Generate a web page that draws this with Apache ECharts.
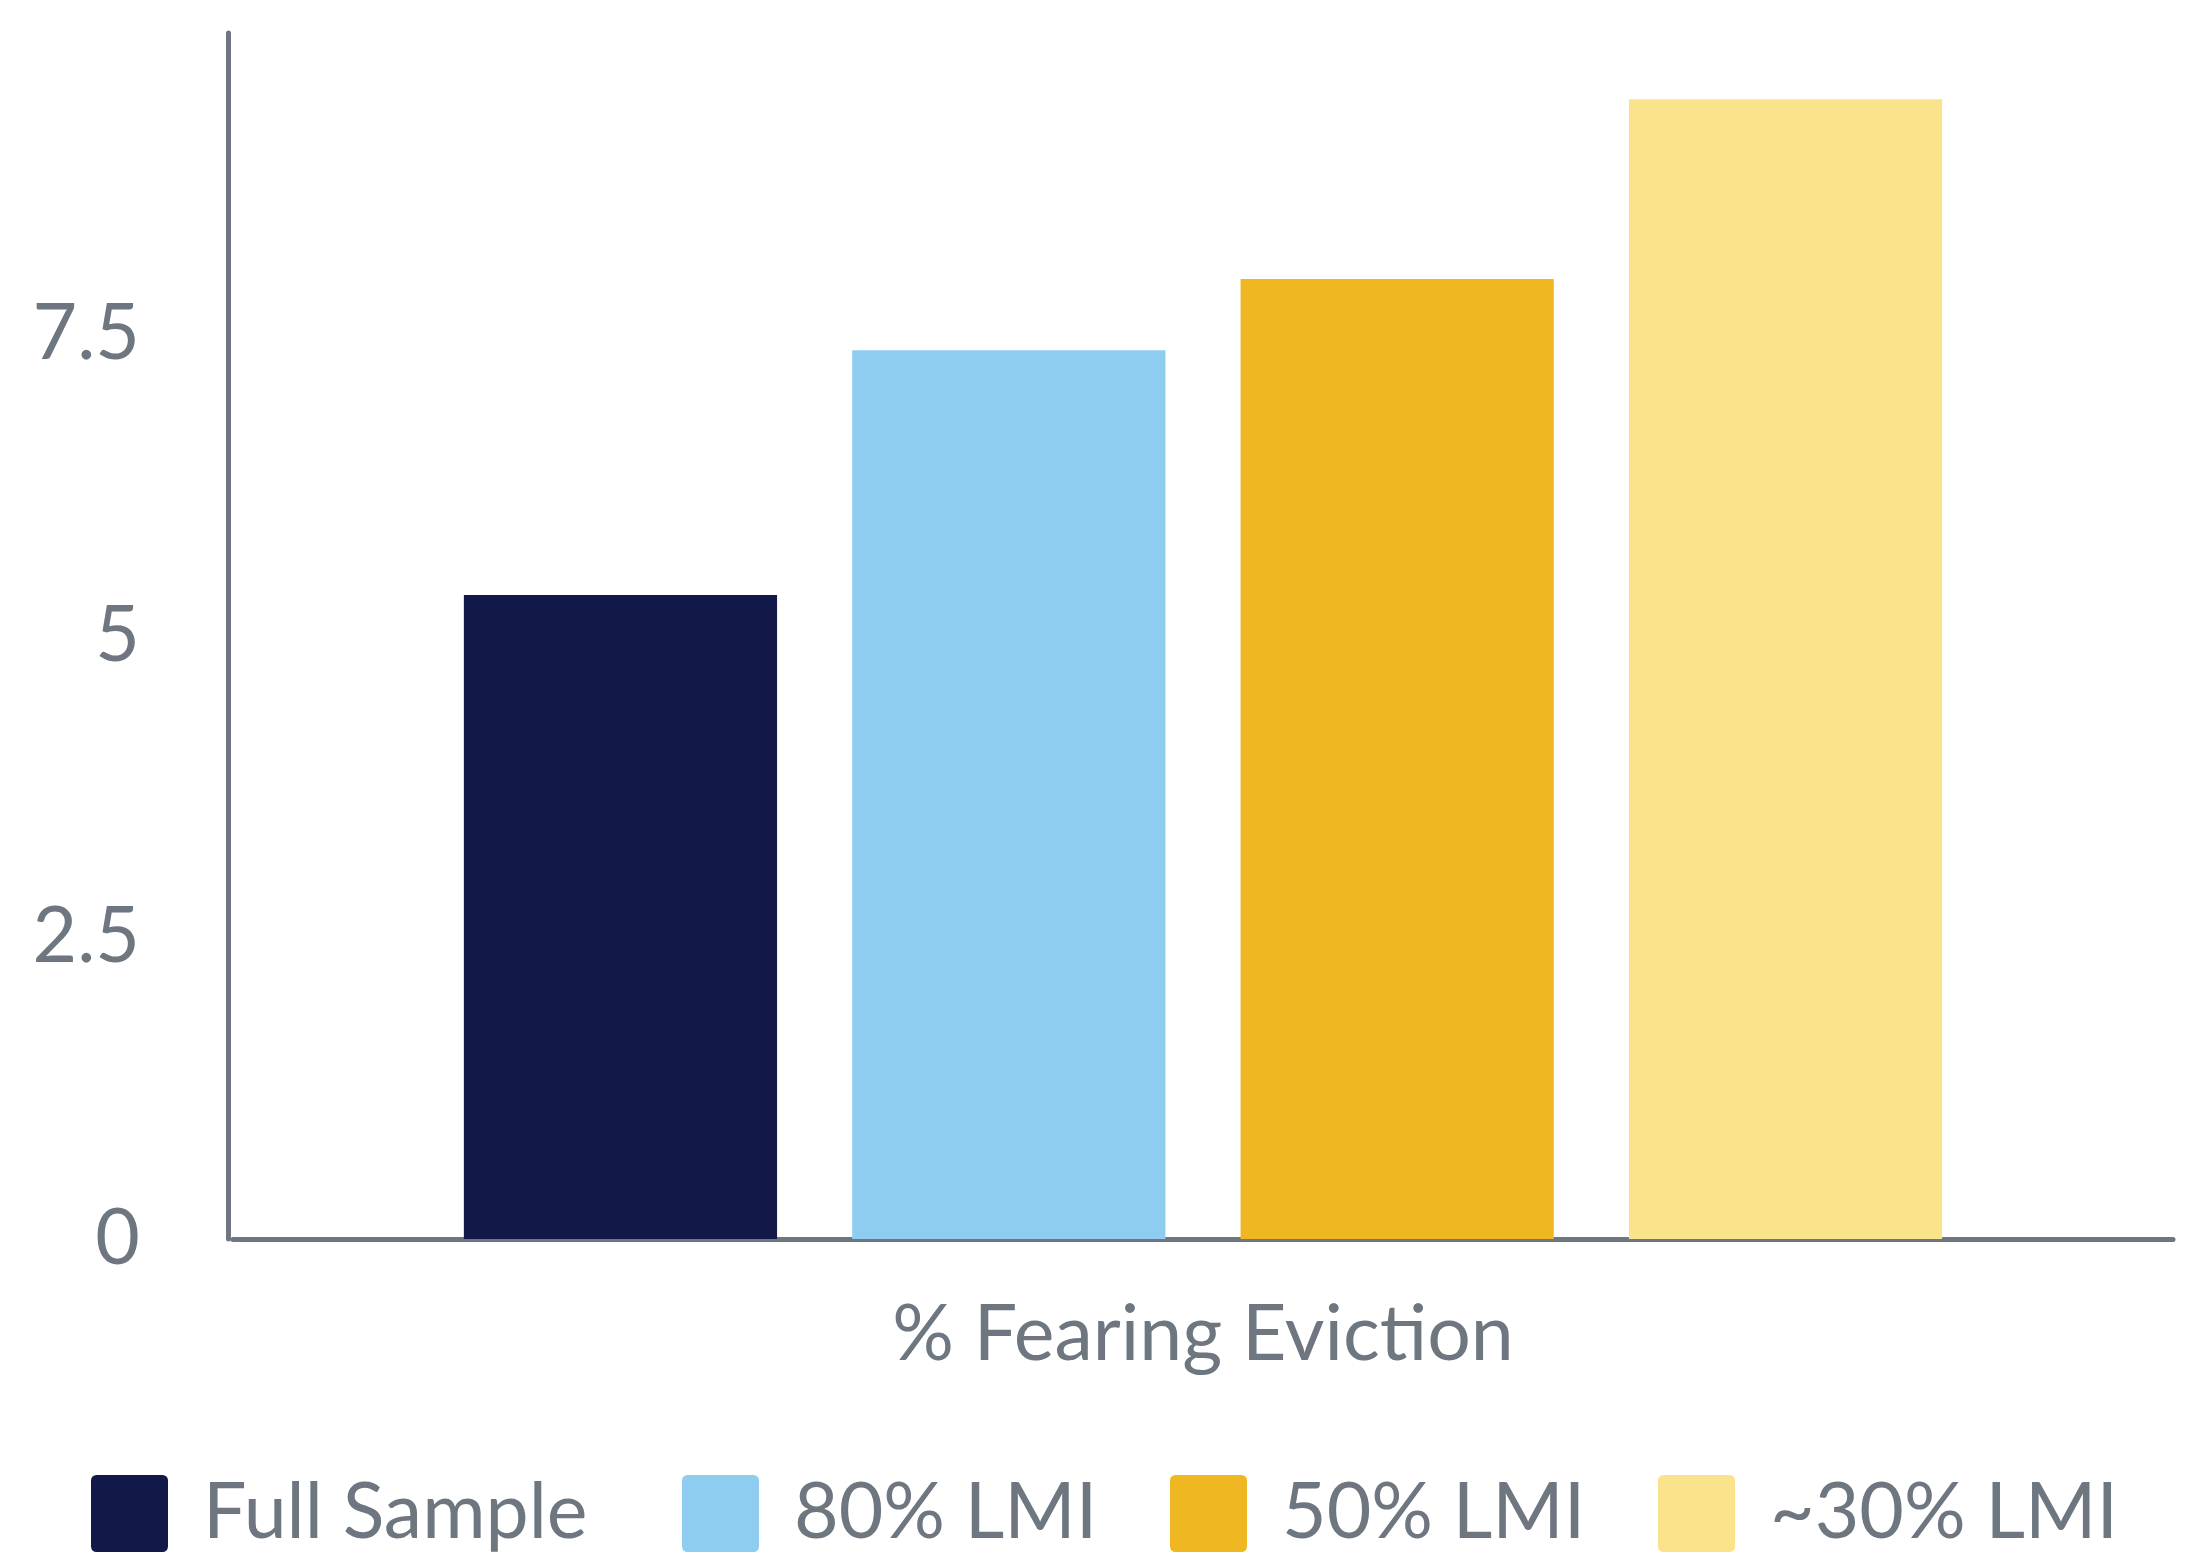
<!DOCTYPE html>
<html>
<head>
<meta charset="utf-8">
<script src="https://cdn.jsdelivr.net/npm/echarts@6/dist/echarts.min.js"></script>
<style>
html,body{margin:0;padding:0;background:#fff;}
#chart{width:2198px;height:1559px;}
</style>
</head>
<body>
<div id="chart"></div>
<script>
var categories = ['% Fearing Eviction'];
var seriesNames = ['Full Sample', '80% LMI', '50% LMI', '~30% LMI'];
var fullSample = [5.34];
var lmi80 = [7.37];
var lmi50 = [7.96];
var lmi30 = [9.45];
var yTicks = [0, 2.5, 5, 7.5, 10];

var colors = ['#121848', '#8fcdf0', '#efb823', '#fbe38b'];
var gray = '#6e7680';
var font = 'Lato';
var legendIcon = 'path://M0.7,0H9.3A0.7,0.7 0 0 1 10,0.7V9.3A0.7,0.7 0 0 1 9.3,10H0.7A0.7,0.7 0 0 1 0,9.3V0.7A0.7,0.7 0 0 1 0.7,0Z';
var legendLefts = [91, 682, 1170, 1658];

var seriesData = [fullSample, lmi80, lmi50, lmi30];

var chart = echarts.init(document.getElementById('chart'), null, {renderer: 'canvas'});
chart.setOption({
  animation: false,
  backgroundColor: '#ffffff',
  color: colors,
  grid: {left: 233, right: 25, top: 33, bottom: 320, containLabel: false},
  legend: seriesNames.map(function (n, i) {
    return {
      data: [n],
      left: legendLefts[i],
      top: 1475,
      padding: 0,
      itemWidth: 77,
      itemHeight: 78,
      icon: legendIcon,
      textStyle: {fontFamily: font, fontSize: 77, color: gray, padding: [6, 0, 0, 30]}
    };
  }),
  xAxis: {
    type: 'category',
    data: categories,
    axisLine: {show: true, lineStyle: {color: gray, width: 5}},
    axisTick: {show: false},
    axisLabel: {show: false},
    name: categories[0],
    nameLocation: 'middle',
    nameGap: 58,
    nameTextStyle: {fontFamily: font, fontSize: 77, color: gray}
  },
  yAxis: {
    type: 'value',
    min: yTicks[0],
    max: yTicks[yTicks.length - 1],
    interval: yTicks[1] - yTicks[0],
    offset: 5,
    axisLine: {show: true, lineStyle: {color: gray, width: 5}},
    axisTick: {show: false},
    splitLine: {show: false},
    axisLabel: {
      showMaxLabel: false,
      margin: 88,
      fontFamily: font,
      fontSize: 77,
      color: gray
    }
  },
  series: seriesNames.map(function (n, i) {
    return {
      name: n,
      type: 'bar',
      data: seriesData[i],
      barGap: '24%',
      barCategoryGap: '23.8%',
      itemStyle: {color: colors[i]}
    };
  })
});
</script>
</body>
</html>
